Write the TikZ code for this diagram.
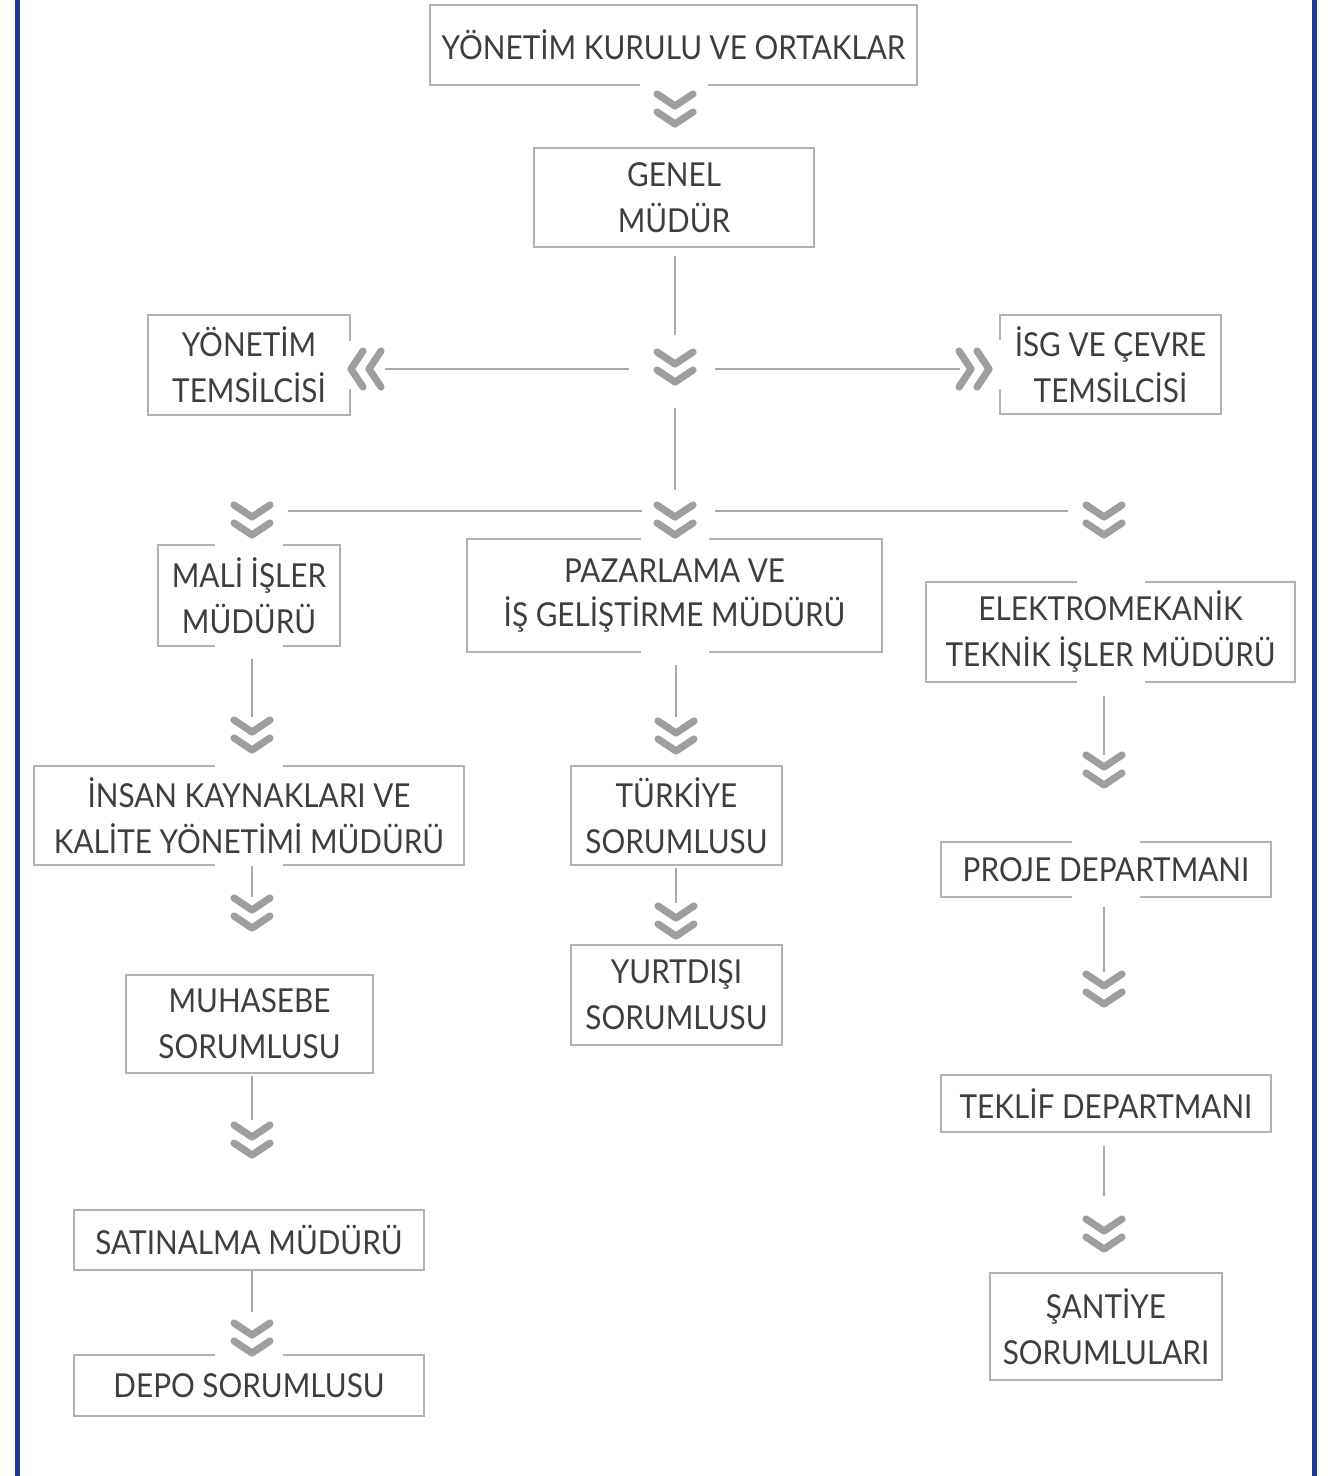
\documentclass[tikz,border=0pt]{standalone}
\usepackage{fontspec}
\setmainfont[FakeStretch=0.9]{Lato}
\definecolor{boxline}{RGB}{178,178,178}
\definecolor{linkgray}{RGB}{167,169,172}
\definecolor{chevgray}{RGB}{156,158,161}
\definecolor{ink}{RGB}{62,62,64}
\definecolor{rulblue}{RGB}{31,58,147}
\tikzset{
  chev/.pic={
    \draw[chevron] (-18,-17) -- (0,-5) -- (18,-17);
    \draw[chevron] (-18,1) -- (0,13) -- (18,1);
  }
}
\newcommand\cutgap[2]{\draw[knockout] ([xshift=-17pt]#1.#2) -- ([xshift=17pt]#1.#2);}

\begin{document}
\begin{tikzpicture}[x=0.5pt,y=-0.5pt,
  unit/.style={draw=boxline, line width=0.65pt, text=ink, align=center, inner sep=0pt,
    font=\fontsize{16.5}{23}\selectfont},
  sz/.style 2 args={minimum width=#1*0.5pt, minimum height=#2*0.5pt},
  link/.style={draw=linkgray, line width=0.75pt},
  chevron/.style={draw=chevgray, line width=3.6pt, line cap=round, line join=round},
  knockout/.style={draw=white, line width=1.6pt},
  rule/.style={draw=rulblue, line width=2.5pt}]
			%%%%% START %%%%%
			\useasboundingbox (0,0) rectangle (1334,1476);
			\draw[rule] (17.5,0) -- (17.5,1476);
			\draw[rule] (1314.5,0) -- (1314.5,1476);
			
			% top
			\node[unit, sz={487}{80}] (kurul) at (673.5,45) {YÖNETİM KURULU VE ORTAKLAR};
			\node[unit, sz={280}{99}] (genel) at (674,197.5) {GENEL\\MÜDÜR};
			\node[unit, sz={202}{100}] (ytemsil) at (249,365) {YÖNETİM\\TEMSİLCİSİ};
			\node[unit, sz={221}{99}] (isg) at (1110.5,364.5) {İSG VE ÇEVRE\\TEMSİLCİSİ};
			
			% managers
			\node[unit, sz={182}{101}] (mali) at (249,595.5) {MALİ İŞLER\\MÜDÜRÜ};
			\node[unit, sz={415}{113}] (pazar) at (674.5,595.5) {\raisebox{-3pt}{\begin{tabular}{@{}c@{}}PAZARLAMA VE\\[-1pt]İŞ GELİŞTİRME MÜDÜRÜ\end{tabular}}};
			\node[unit, sz={369}{100}] (elektro) at (1110.5,632) {ELEKTROMEKANİK\\TEKNİK İŞLER MÜDÜRÜ};
			
			% left column
			\node[unit, sz={430}{99}] (ik) at (249,815.5) {İNSAN KAYNAKLARI VE\\KALİTE YÖNETİMİ MÜDÜRÜ};
			\node[unit, sz={247}{98}] (muhasebe) at (249.5,1024) {MUHASEBE\\SORUMLUSU};
			\node[unit, sz={350}{60}] (satin) at (249,1240) {SATINALMA MÜDÜRÜ};
			\node[unit, sz={350}{61}] (depo) at (249,1385.5) {DEPO SORUMLUSU};
			
			% middle column
			\node[unit, sz={211}{99}] (turkiye) at (676.5,815.5) {TÜRKİYE\\SORUMLUSU};
			\node[unit, sz={211}{100}] (yurtdisi) at (676.5,995) {YURTDIŞI\\SORUMLUSU};
			
			% right column
			\node[unit, sz={330}{55}] (proje) at (1106,869.5) {PROJE DEPARTMANI};
			\node[unit, sz={330}{57}] (teklif) at (1106,1103.5) {TEKLİF DEPARTMANI};
			\node[unit, sz={232}{107}] (santiye) at (1106,1326.5) {ŞANTİYE\\SORUMLULARI};
			
			\cutgap{kurul}{south}
			\cutgap{mali}{north}
			\cutgap{mali}{south}
			\cutgap{pazar}{north}
			\cutgap{pazar}{south}
			\cutgap{elektro}{north}
			\cutgap{elektro}{south}
			\cutgap{ik}{north}
			\cutgap{ik}{south}
			\cutgap{proje}{north}
			\cutgap{proje}{south}
			\cutgap{depo}{north}
			\draw[knockout] ([yshift=12pt]ytemsil.east) -- ([yshift=-12pt]ytemsil.east);
			\draw[knockout] ([yshift=12pt]isg.west) -- ([yshift=-12pt]isg.west);
			
			\coordinate (ch1) at (675,111);
			\coordinate (ch2) at (675,369);
			\coordinate (chL) at (364,369);
			\coordinate (chR) at (976,369);
			\coordinate (ch3) at (252,522);
			\coordinate (ch4) at (675,522);
			\coordinate (ch5) at (1104,522);
			\coordinate (ch6) at (252,737);
			\coordinate (ch7) at (252,915);
			\coordinate (ch8) at (252,1142);
			\coordinate (ch9) at (252,1340);
			\coordinate (ch10) at (676,738);
			\coordinate (ch11) at (676,923);
			\coordinate (ch12) at (1104,772);
			\coordinate (ch13) at (1104,991);
			\coordinate (ch14) at (1104,1236);
			
			\draw[link, shorten <=4pt, shorten >=17pt] (genel.south -| ch2) -- (ch2);
			\draw[link, shorten <=19.5pt, shorten >=16pt] (ch2) -- (ch4);
			\draw[link, shorten <=23pt, shorten >=10.5pt] (ch2) -- (chL);
			\draw[link, shorten <=20pt, shorten >=8pt] (ch2) -- (chR);
			\draw[link, shorten <=16.5pt, shorten >=18pt] ([yshift=5.5pt]ch4) -- ([yshift=5.5pt]ch3);
			\draw[link, shorten <=20pt, shorten >=18pt] ([yshift=5.5pt]ch4) -- ([yshift=5.5pt]ch5);
			
			\draw[link, shorten <=6pt, shorten >=10pt] (mali.south -| ch6) -- (ch6);
			\draw[link, shorten >=9pt] (ik.south -| ch7) -- (ch7);
			\draw[link, shorten <=1pt, shorten >=11pt] (muhasebe.south -| ch8) -- (ch8);
			\draw[link, shorten >=14pt] (satin.south -| ch9) -- (ch9);
			\draw[link, shorten <=6pt, shorten >=10.5pt] (pazar.south -| ch10) -- (ch10);
			\draw[link, shorten <=1pt, shorten >=10pt] (turkiye.south -| ch11) -- (ch11);
			\draw[link, shorten <=6.5pt, shorten >=8.5pt] (elektro.south -| ch12) -- (ch12);
			\draw[link, shorten <=4.5pt, shorten >=9.5pt] (proje.south -| ch13) -- (ch13);
			\draw[link, shorten <=6.5pt, shorten >=20pt] (teklif.south -| ch14) -- (ch14);
			
			\foreach \c in {ch1,ch2,ch3,ch4,ch5,ch6,ch7,ch8,ch9,ch10,ch11,ch12,ch13,ch14}
				\pic at (\c) {chev};
			\pic[rotate=-90] at (chL) {chev};
			\pic[rotate=90] at (chR) {chev};
			%%%%% END %%%%%
\end{tikzpicture}
\end{document}
